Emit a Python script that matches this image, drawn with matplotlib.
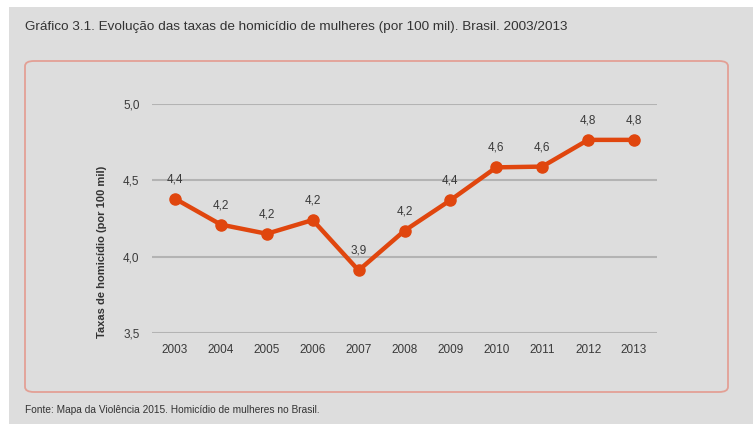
import matplotlib
matplotlib.use("Agg")
import matplotlib.pyplot as plt
from matplotlib.patches import Rectangle, FancyBboxPatch

years = [2003, 2004, 2005, 2006, 2007, 2008, 2009, 2010, 2011, 2012, 2013]
rates = [4.38, 4.21, 4.15, 4.24, 3.91, 4.17, 4.37, 4.585, 4.59, 4.765, 4.765]
labels = ["4,4", "4,2", "4,2", "4,2", "3,9", "4,2", "4,4", "4,6", "4,6", "4,8", "4,8"]
yticks = [3.5, 4.0, 4.5, 5.0]
ytick_labels = ["3,5", "4,0", "4,5", "5,0"]

W, H = 753, 425
fam = ["Liberation Sans", "DejaVu Sans"]
bg = "#dddddd"
line_c = "#e0460e"
txt_c = "#3a3a3a"

fig = plt.figure(figsize=(W / 100, H / 100), dpi=100)
fig.patch.set_facecolor("white")

# gray panel
fig.patches.append(Rectangle((9 / W, 1 - 424 / H), (W - 9) / W, (424 - 7) / H,
                             transform=fig.transFigure, facecolor=bg, edgecolor="none", zorder=-2))
# rounded border
fig.patches.append(FancyBboxPatch((25 / W, 1 - 392 / H), (728 - 25) / W, (392 - 61) / H,
                                  boxstyle="round,pad=0,rounding_size=0.012",
                                  transform=fig.transFigure, facecolor="none",
                                  edgecolor="#e3a095", linewidth=1.3, zorder=-1))

fig.text(25 / W, 1 - 27 / H, "Gráfico 3.1. Evolução das taxas de homicídio de mulheres (por 100 mil). Brasil. 2003/2013",
         family=fam, fontsize=9.7, color="#333333", va="center", ha="left")
fig.text(25 / W, 1 - 410 / H, "Fonte: Mapa da Violência 2015. Homicídio de mulheres no Brasil.",
         family=fam, fontsize=7.3, color="#333333", va="center", ha="left")

ax = fig.add_axes([152 / W, 1 - 333 / H, (657 - 152) / W, (333 - 104) / H])
ax.set_zorder(2)
ax.set_facecolor("none")
ax.set_xlim(2002.5, 2013.5)
ax.set_ylim(3.5, 5.0)
for s in ax.spines.values():
    s.set_visible(False)
ax.set_yticks(yticks)
ax.set_yticklabels(ytick_labels)
ax.set_xticks(years)
ax.set_xticklabels([str(y) for y in years])
ax.tick_params(length=0, labelsize=8.5, colors=txt_c)
ax.tick_params(axis="y", pad=9)
ax.tick_params(axis="x", pad=8)
for lab in ax.get_xticklabels() + ax.get_yticklabels():
    lab.set_family(fam)
ax.grid(axis="y", color="#b3b3b3", linewidth=1.5)
ax.set_axisbelow(True)

ax.plot(years, rates, color=line_c, linewidth=3.2, marker="o", markersize=8,
        clip_on=False, zorder=3)
for x, y, t in zip(years, rates, labels):
    ax.annotate(t, (x, y), xytext=(0, 14), textcoords="offset points",
                ha="center", va="center", fontsize=8.5, color=txt_c, family=fam)

fig.text(102 / W, 1 - 252 / H, "Taxas de homicídio (por 100 mil)", rotation=90,
         family=fam, fontsize=8, fontweight="bold", color="#333333", ha="center", va="center")

fig.savefig("out.png", dpi=100, facecolor=fig.get_facecolor())
